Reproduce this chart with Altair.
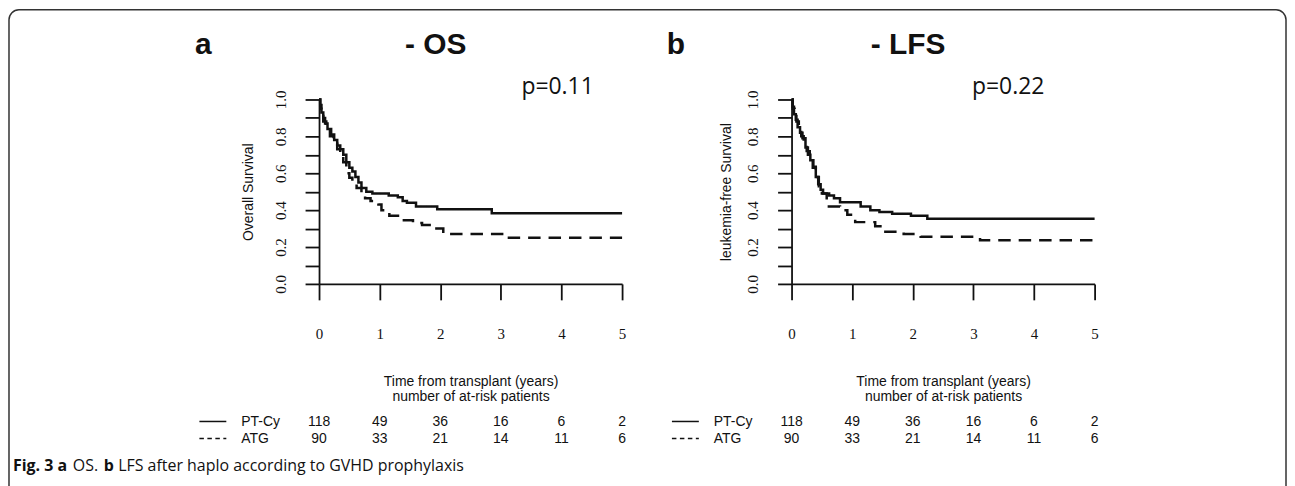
import altair as alt
import pandas as pd

# ---------------- data ----------------
# Panel a: Overall survival (Kaplan-Meier steps)
os_pt_t = [0, 0.02, 0.04, 0.07, 0.10, 0.14, 0.20, 0.25, 0.30, 0.35, 0.40, 0.45, 0.50, 0.55, 0.60,
           0.65, 0.70, 0.78, 0.88, 1.15, 1.30, 1.38, 1.45, 1.60, 1.95, 2.85, 5.0]
os_pt_s = [1.0, 0.97, 0.93, 0.90, 0.87, 0.84, 0.81, 0.78, 0.75, 0.73, 0.70, 0.66, 0.63, 0.61, 0.58,
           0.55, 0.52, 0.50, 0.49, 0.48, 0.47, 0.45, 0.44, 0.42, 0.405, 0.383, 0.383]
os_atg_t = [0, 0.02, 0.04, 0.07, 0.12, 0.18, 0.24, 0.30, 0.35, 0.40, 0.45, 0.50, 0.55, 0.62, 0.70,
            0.76, 0.85, 0.98, 1.03, 1.10, 1.16, 1.40, 1.55, 1.70, 1.90, 2.05, 3.10, 5.0]
os_atg_s = [1.0, 0.95, 0.91, 0.88, 0.85, 0.80, 0.76, 0.73, 0.70, 0.66, 0.60, 0.575, 0.55, 0.52, 0.49,
            0.465, 0.45, 0.43, 0.40, 0.385, 0.37, 0.345, 0.33, 0.32, 0.30, 0.27, 0.25, 0.25]

# Panel b: Leukemia-free survival
lfs_pt_t = [0, 0.02, 0.04, 0.07, 0.10, 0.14, 0.18, 0.23, 0.27, 0.31, 0.36, 0.40, 0.44, 0.48, 0.52,
            0.62, 0.70, 0.80, 1.14, 1.30, 1.45, 1.66, 1.97, 2.24, 5.0]
lfs_pt_s = [1.0, 0.96, 0.92, 0.89, 0.85, 0.82, 0.79, 0.74, 0.70, 0.67, 0.635, 0.58, 0.54, 0.51, 0.49,
            0.48, 0.465, 0.443, 0.42, 0.40, 0.39, 0.38, 0.37, 0.353, 0.353]
lfs_atg_t = [0, 0.02, 0.05, 0.08, 0.12, 0.16, 0.20, 0.25, 0.30, 0.35, 0.40, 0.45, 0.50, 0.58,
             0.80, 0.92, 1.05, 1.38, 1.52, 1.85, 2.13, 3.11, 5.0]
lfs_atg_s = [1.0, 0.95, 0.91, 0.88, 0.84, 0.80, 0.77, 0.72, 0.68, 0.63, 0.58, 0.53, 0.49, 0.42,
             0.40, 0.375, 0.335, 0.313, 0.283, 0.27, 0.256, 0.237, 0.237]

# number at risk table
risk_times = [0, 1, 2, 3, 4, 5]
risk_pt = [118, 49, 36, 16, 6, 2]
risk_atg = [90, 33, 21, 14, 11, 6]
groups = ["PT-Cy", "ATG"]

x_title = ["Time from transplant (years)", "number of at-risk patients"]
caption_parts = ["Fig. 3 a", "OS.", "b", "LFS after haplo according to GVHD prophylaxis"]

# ---------------- chart ----------------
INK = "#111111"
one = pd.DataFrame({"k": [0]})
W, H = 304, 185


def text_layer(txt, x, y, **kw):
    return alt.Chart(one).mark_text(text=txt, color=INK, baseline="alphabetic", **kw).encode(
        x=alt.value(x), y=alt.value(y))


def km_panel(pt_t, pt_s, atg_t, atg_s, letter, name, ptext, px, ytitle, ytx, extras=()):
    df = pd.DataFrame({
        "t": pt_t + atg_t,
        "s": pt_s + atg_s,
        "g": [groups[0]] * len(pt_t) + [groups[1]] * len(atg_t),
    })
    xs = alt.Scale(domain=[0, 5], nice=False, zero=False)
    ys = alt.Scale(domain=[0, 1], nice=False)
    lines = alt.Chart(df).mark_line(interpolate="step-after", strokeWidth=2.5, color=INK).encode(
        x=alt.X("t:Q", scale=xs, axis=alt.Axis(
            values=risk_times, format="d", tickSize=16, labelPadding=39,
            labelBaseline="alphabetic", labelFlush=False, labelOverlap=False,
            title=x_title, titleX=W / 2, titleY=102, titleAlign="center",
            titleBaseline="alphabetic", titleLineHeight=15)),
        y=alt.Y("s:Q", scale=ys, axis=alt.Axis(
            values=[round(i * 0.1, 1) for i in range(11)],
            labelExpr="round(datum.value*10) % 2 === 0 ? format(datum.value, '.1f') : ''",
            labelAngle=270, labelAlign="center", labelBaseline="alphabetic",
            tickSize=14, labelPadding=20, labelOverlap=False,
            title=ytitle, titleX=ytx, titleY=H / 2, titleAngle=270,
            titleAlign="center", titleBaseline="alphabetic")),
        strokeDash=alt.StrokeDash("g:N", scale=alt.Scale(domain=groups, range=[[1, 0], [12.5, 8]]),
                                  legend=None),
    )
    risk = pd.DataFrame({
        "t": risk_times * 2,
        "n": risk_pt + risk_atg,
        "g": [groups[0]] * len(risk_times) + [groups[1]] * len(risk_times),
    })
    rk = alt.Chart(risk).mark_text(font="Liberation Sans", fontSize=14, color=INK,
                                   align="center", baseline="alphabetic")
    risk_pt_layer = rk.transform_filter(alt.datum.g == groups[0]).encode(
        x=alt.X("t:Q", scale=xs), y=alt.value(328), text="n:Q")
    risk_atg_layer = rk.transform_filter(alt.datum.g == groups[1]).encode(
        x=alt.X("t:Q", scale=xs), y=alt.value(345), text="n:Q")
    leg_pt = alt.Chart(one).mark_rule(color=INK, strokeWidth=1.5).encode(
        x=alt.value(-120), x2=alt.value(-93), y=alt.value(323))
    leg_atg = alt.Chart(one).mark_rule(color=INK, strokeWidth=1.5, strokeDash=[4.5, 3.5]).encode(
        x=alt.value(-120), x2=alt.value(-93), y=alt.value(340))
    lab_pt = text_layer(groups[0], -78, 328, font="Liberation Sans", fontSize=14, align="left")
    lab_atg = text_layer(groups[1], -78, 345, font="Liberation Sans", fontSize=14, align="left")
    t_letter = text_layer(letter, -116, -46, font="Liberation Sans", fontSize=30,
                          fontWeight="bold", align="center")
    t_name = text_layer(name, 117, -46, font="Liberation Sans", fontSize=30,
                        fontWeight="bold", align="center")
    t_p = text_layer(ptext, px, -6, font="Open Sans", fontSize=23, align="left")
    layers = [lines, risk_pt_layer, risk_atg_layer, leg_pt, leg_atg, lab_pt, lab_atg,
              t_letter, t_name, t_p] + list(extras)
    return alt.layer(*layers).properties(width=W, height=H)


border = alt.Chart(one).mark_rect(filled=False, stroke="#333333", strokeWidth=1.5,
                                  cornerRadius=10).encode(
    x=alt.value(-311), x2=alt.value(970), y=alt.value(-90), y2=alt.value(400))
cap1 = text_layer(caption_parts[0], -307, 373, font="Open Sans", fontSize=16,
                  fontWeight="bold", align="left")
cap2 = text_layer(caption_parts[1], -247, 373, font="Open Sans", fontSize=16, align="left")
cap3 = text_layer(caption_parts[2], -216, 373, font="Open Sans", fontSize=16,
                  fontWeight="bold", align="left")
cap4 = text_layer(caption_parts[3], -201.5, 373, font="Open Sans", fontSize=16, align="left")

panel_a = km_panel(os_pt_t, os_pt_s, os_atg_t, os_atg_s, "a", "- OS", "p=0.11", 203,
                   "Overall Survival", -67, extras=[border, cap1, cap2, cap3, cap4])
panel_b = km_panel(lfs_pt_t, lfs_pt_s, lfs_atg_t, lfs_atg_s, "b", "- LFS", "p=0.22", 181,
                   "leukemia-free Survival", -61)

chart = alt.hconcat(panel_a, panel_b, spacing=170, bounds="flush", padding=0).configure_view(
    strokeWidth=0
).configure_axis(
    domainColor=INK, tickColor=INK, domainWidth=1.8, tickWidth=1.8, grid=False,
    labelColor=INK, titleColor=INK, labelFont="Liberation Serif", labelFontSize=15,
    titleFont="Liberation Sans", titleFontSize=14, titleFontWeight="normal"
)

chart.save("out.html", embed_options={"renderer": "svg", "actions": False})
